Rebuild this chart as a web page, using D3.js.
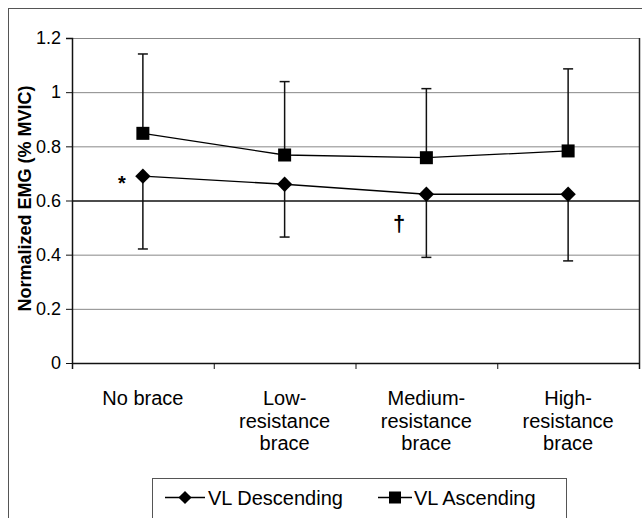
<!DOCTYPE html>
<html><head><meta charset="utf-8">
<script src="https://cdn.jsdelivr.net/npm/d3@7"></script>
<style>
html,body{margin:0;padding:0;background:#fff;}
svg{display:block;font-family:"Liberation Sans",Arial,sans-serif;}
</style></head>
<body>
<svg id="chart" width="642" height="518"></svg>
<script>
const categories = [["No brace"],["Low-","resistance","brace"],["Medium-","resistance","brace"],["High-","resistance","brace"]];
const seriesNames = ["VL Descending","VL Ascending"];
const descending = [0.69, 0.66, 0.623, 0.623];
const descendingLow = [0.421, 0.465, 0.39, 0.377];
const ascending = [0.848, 0.768, 0.758, 0.783];
const ascendingHigh = [1.141, 1.039, 1.013, 1.086];
const yTicks = [0, 0.2, 0.4, 0.6, 0.8, 1, 1.2];

const svg = d3.select("#chart");
const L = 72, R = 639, T = 38, B = 363;

// outer frame
svg.append("rect").attr("x",8.5).attr("y",8.5).attr("width",660).attr("height",540)
  .attr("fill","none").attr("stroke","#555").attr("stroke-width",1);

const x = d3.scaleBand().domain(d3.range(categories.length)).range([L,R]);
const y = d3.scaleLinear().domain([0,1.2]).range([B,T]);
const cx = i => x(i) + x.bandwidth()/2;

// gridlines
svg.append("g").selectAll("line").data(yTicks.filter(d=>d>0)).join("line")
  .attr("x1",L).attr("x2",R).attr("y1",d=>y(d)+0.5).attr("y2",d=>y(d)+0.5)
  .attr("stroke",d=>d===0.6?"#111":"#888").attr("stroke-width",d=>d===0.6?1.5:1);

// right border
svg.append("line").attr("x1",R+0.5).attr("x2",R+0.5).attr("y1",T).attr("y2",B+6)
  .attr("stroke","#222").attr("stroke-width",1.5);

// y axis
const yAxis = d3.axisLeft(y).tickValues(yTicks).tickSize(6).tickPadding(5)
  .tickFormat(d=>String(d));
const gy = svg.append("g").attr("transform",`translate(${L},0)`).call(yAxis);
gy.select(".domain").attr("stroke","#111").attr("stroke-width",1.5).attr("d",`M-6,${T+0.5}H0.5V${B+6}`);
gy.selectAll(".tick line").attr("stroke","#111");
gy.selectAll(".tick text").attr("font-size","18px").attr("fill","#000")
  .attr("font-family","'Liberation Sans',Arial,sans-serif");

// x axis
const xAxis = d3.axisBottom(d3.scaleLinear().domain([0,4]).range([L,R])).tickValues([0,1,2,3,4]).tickSize(6).tickFormat("");
const gx = svg.append("g").attr("transform",`translate(0,${B})`).call(xAxis);
gx.select(".domain").attr("stroke","#111").attr("stroke-width",1.5).attr("d",`M${L},0.5H${R+1}`);
gx.selectAll(".tick line").attr("stroke","#111");

// category labels
categories.forEach((lines,i)=>{
  const t = svg.append("text").attr("x",cx(i)).attr("y",405).attr("text-anchor","middle")
    .attr("font-size","20px").attr("fill","#000");
  lines.forEach((s,j)=>t.append("tspan").attr("x",cx(i)).attr("dy",j===0?0:22.5).text(s));
});

// y title
svg.append("text").attr("transform",`translate(31,${(T+B)/2-2}) rotate(-90)`)
  .attr("text-anchor","middle").attr("font-size","18px").attr("font-weight","bold")
  .text("Normalized EMG (% MVIC)");

// error bars
const cap = 5;
function errBar(i, v0, v1){
  const g = svg.append("g").attr("stroke","#111").attr("stroke-width",1.5);
  g.append("line").attr("x1",cx(i)).attr("x2",cx(i)).attr("y1",y(v0)).attr("y2",y(v1));
  g.append("line").attr("x1",cx(i)-cap).attr("x2",cx(i)+cap).attr("y1",y(v1)).attr("y2",y(v1));
}
ascending.forEach((v,i)=>errBar(i,v,ascendingHigh[i]));
descending.forEach((v,i)=>errBar(i,v,descendingLow[i]));

// lines
const line = d3.line().x((d,i)=>cx(i)).y(d=>y(d));
svg.append("path").datum(descending).attr("d",line).attr("fill","none").attr("stroke","#000").attr("stroke-width",1.3);
svg.append("path").datum(ascending).attr("d",line).attr("fill","none").attr("stroke","#000").attr("stroke-width",1.3);

// markers
const diamond = d3.symbol().type(d3.symbolDiamond2).size(150);
svg.append("g").selectAll("path").data(descending).join("path")
  .attr("transform",(d,i)=>`translate(${cx(i)},${y(d)})`).attr("d",diamond).attr("fill","#000");
svg.append("g").selectAll("rect").data(ascending).join("rect")
  .attr("x",(d,i)=>cx(i)-6.5).attr("y",d=>y(d)-6.5).attr("width",13).attr("height",13).attr("fill","#000");

// annotations
svg.append("text").attr("x",122).attr("y",190).attr("text-anchor","middle").attr("font-size","20px").attr("font-weight","bold").text("*");
svg.append("text").attr("x",399).attr("y",231).attr("text-anchor","middle").attr("font-size","22px").attr("font-weight","bold").attr("fill","#000").text("†");

// legend
svg.append("rect").attr("x",152.5).attr("y",478.5).attr("width",414).attr("height",60)
  .attr("fill","#fff").attr("stroke","#555");
const lg = [{x0:165, x1:205, tx:208, name:seriesNames[0], m:"d"},{x0:378, x1:412, tx:414, name:seriesNames[1], m:"s"}];
lg.forEach(o=>{
  const mx = (o.x0+o.x1)/2;
  svg.append("line").attr("x1",o.x0).attr("x2",o.x1).attr("y1",497.5).attr("y2",497.5).attr("stroke","#000").attr("stroke-width",1.3);
  if(o.m==="d") svg.append("path").attr("transform",`translate(${mx},497.5)`).attr("d",d3.symbol().type(d3.symbolDiamond2).size(110)).attr("fill","#000");
  else svg.append("rect").attr("x",mx-6).attr("y",491.5).attr("width",12).attr("height",12).attr("fill","#000");
  svg.append("text").attr("x",o.tx).attr("y",505).attr("font-size","20px").text(o.name);
});
</script>
</body></html>
